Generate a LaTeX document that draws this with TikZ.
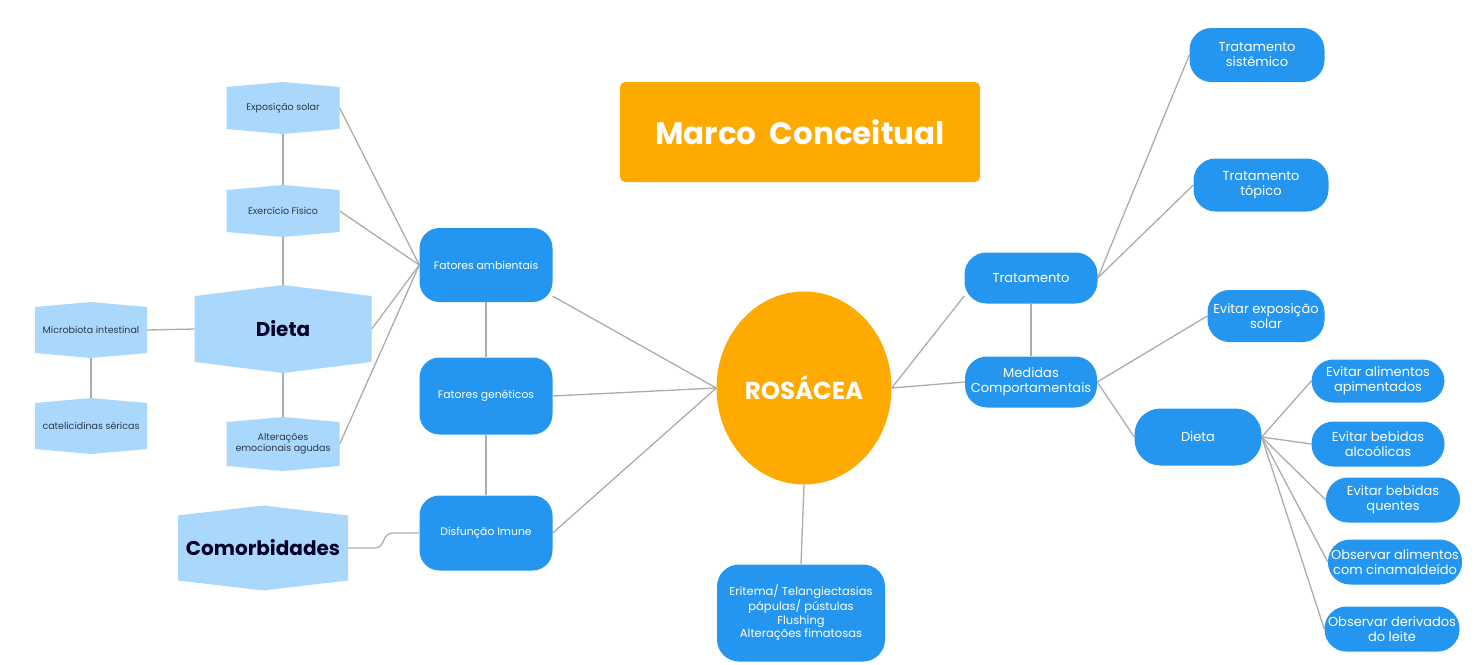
\documentclass[tikz,border=0pt]{standalone}
\usepackage{fontspec}
\setmainfont{Poppins}
\usetikzlibrary{calc,shapes.geometric}
\pgfdeclarelayer{bg}
\pgfsetlayers{bg,main}
\definecolor{mblue}{RGB}{36,150,240}
\definecolor{lblue}{RGB}{170,216,252}
\definecolor{morange}{RGB}{255,170,0}
\definecolor{lgray}{RGB}{172,172,172}
\definecolor{dtext}{RGB}{45,55,75}
\newcommand\hexnode[8]{%
  \fill[lblue] ({#2-#4/2},{#3-#5/2}) -- ({#2},{#3-#5/2-#6}) -- ({#2+#4/2},{#3-#5/2})
    -- ({#2+#4/2},{#3+#5/2}) -- ({#2},{#3+#5/2+#6}) -- ({#2-#4/2},{#3+#5/2}) -- cycle;
  \node[hextext,minimum width=#4pt,minimum height=#5pt,#7] (#1) at (#2,#3) {#8};}
\tikzset{
  hextext/.style={inner sep=0pt,align=center,text=dtext,font=\fontsize{9.5}{11.5}\selectfont},
  bignode/.style={font=\fontsize{20}{22}\selectfont\bfseries,text=black!85!blue},
  bnode/.style={fill=mblue,text=white,align=center,inner sep=0pt,rounded corners=20pt,
    font=\fontsize{10.8}{13}\selectfont},
  rnode/.style={bnode,rounded corners=22pt,font=\fontsize{13}{15}\selectfont},
  conn/.style={draw=lgray,line width=1.3pt},
}
\begin{document}
\begin{tikzpicture}[x=1pt,y=-1pt]
\useasboundingbox (0,0) rectangle (1483,664);

% title
\node[fill=morange,rounded corners=5pt,minimum width=360pt,minimum height=100pt,
  text=white,font=\fontsize{31}{34}\selectfont\bfseries] (title) at (800,132) {Marco\ \ Conceitual};

% central
\node[ellipse,fill=morange,minimum width=175pt,minimum height=193pt,inner sep=0pt,
  text=white,font=\fontsize{24.5}{27}\selectfont\bfseries] (ros) at (804,388) {ROSÁCEA};

% left hexagons
\hexnode{ea}{283}{108}{113}{42}{5}{}{Exposição solar}
\hexnode{ef}{283}{211}{113}{42}{5}{}{Exercício Físico}
\hexnode{dt}{283}{329}{177}{66}{11}{bignode}{Dieta}
\hexnode{al}{283}{444}{113}{44}{5}{}{Alterações\\emocionais agudas}
\hexnode{mi}{91}{330}{112}{46}{5}{}{Microbiota intestinal}
\hexnode{ca}{91}{426}{112}{46}{5}{}{catelicidinas séricas}
\hexnode{co}{263}{548}{170}{65}{10}{bignode}{Comorbidades}

% left blue
\node[bnode,minimum width=133pt,minimum height=74pt] (fa) at (486,265) {Fatores ambientais};
\node[bnode,minimum width=133pt,minimum height=77pt] (fg) at (486,396) {Fatores genéticos};
\node[bnode,minimum width=133pt,minimum height=75pt] (di) at (486,533) {Disfunção Imune};

% bottom
\node[bnode,rounded corners=22pt,minimum width=168pt,minimum height=97pt,
  font=\fontsize{11.5}{13.5}\selectfont] (er) at (801,613)
  {Eritema/ Telangiectasias\\pápulas/ pústulas\\Flushing\\Alterações fimatosas};

% right
\node[rnode,minimum width=133pt,minimum height=51pt] (tr) at (1031,278) {Tratamento};
\node[rnode,minimum width=132pt,minimum height=51pt] (mc) at (1031,382) {Medidas\\Comportamentais};
\node[rnode,minimum width=135pt,minimum height=54pt] (ts) at (1257,55) {Tratamento\\sistêmico};
\node[rnode,minimum width=135pt,minimum height=53pt] (tt) at (1261,185) {Tratamento\\tópico};
\node[rnode,minimum width=117pt,minimum height=52pt] (ee) at (1266,316) {Evitar exposição\\solar};
\node[rnode,rounded corners=26pt,minimum width=127pt,minimum height=57pt] (d2) at (1198,437) {Dieta};
\node[rnode,minimum width=133pt,minimum height=43pt] (e1) at (1378,381) {Evitar alimentos\\apimentados};
\node[rnode,minimum width=133pt,minimum height=45pt] (e2) at (1378,444) {Evitar bebidas\\alcoólicas};
\node[rnode,minimum width=134pt,minimum height=45pt] (e3) at (1393,500) {Evitar bebidas\\quentes};
\node[rnode,minimum width=134pt,minimum height=45pt] (e4) at (1395,562) {Observar alimentos\\com cinamaldeído};
\node[rnode,minimum width=135pt,minimum height=45pt] (e5) at (1392,629) {Observar derivados\\do leite};

\begin{pgfonlayer}{bg}
  \draw[conn] (ea.south) -- (ef.north);
  \draw[conn] (ef.south) -- (dt.north);
  \draw[conn] (dt.south) -- (al.north);
  \draw[conn] (mi.east) -- (dt.west);
  \draw[conn] (mi.south) -- (ca.north);
  \draw[conn] (ea.east) -- (fa.west);
  \draw[conn] (ef.east) -- (fa.west);
  \draw[conn] (dt.east) -- (fa.west);
  \draw[conn] (al.east) -- (fa.west);
  \draw[conn] (fa.south) -- (fg.north);
  \draw[conn] (fg.south) -- (di.north);
  \draw[conn,rounded corners=5pt] (co.east) -- ++(32,0) -- ++(7,-15) -- (di.west);
  \draw[conn] (fa.-25) -- (ros.west);
  \draw[conn] (fg.east) -- (ros.west);
  \draw[conn] (di.east) -- (ros.west);
  \draw[conn] (ros.south) -- (er.north);
  \draw[conn] (ros.east) -- (tr.195);
  \draw[conn] (ros.east) -- (mc.west);
  \draw[conn] (tr.south) -- (mc.north);
  \draw[conn] (tr.east) -- (ts.west);
  \draw[conn] (tr.east) -- (tt.west);
  \draw[conn] (mc.east) -- (ee.west);
  \draw[conn] (mc.east) -- (d2.west);
  \draw[conn] (d2.east) -- (e1.west);
  \draw[conn] (d2.east) -- (e2.west);
  \draw[conn] (d2.east) -- (e3.west);
  \draw[conn] (d2.east) -- (e4.west);
  \draw[conn] (d2.east) -- (e5.west);
\end{pgfonlayer}
\end{tikzpicture}
\end{document}
